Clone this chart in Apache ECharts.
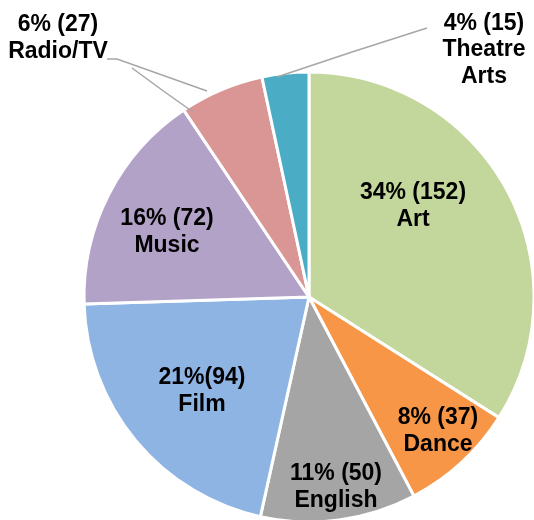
<!DOCTYPE html>
<html>
<head>
<meta charset="utf-8">
<script src="https://cdn.jsdelivr.net/npm/echarts@6/dist/echarts.min.js"></script>
<style>
  html, body { margin: 0; padding: 0; background: #fff; }
  #main { width: 534px; height: 520px; }
</style>
</head>
<body>
<div id="main"></div>
<script>
// slices, clockwise from 12 o'clock
const majors = ['Art', 'Dance', 'English', 'Film', 'Music', 'Radio/TV', 'Theatre Arts'];
const counts = [152, 37, 50, 94, 72, 27, 15];
const percents = [34, 8, 11, 21, 16, 6, 4];
const labelNames = ['Art', 'Dance', 'English', 'Film', 'Music', 'Radio/TV', 'Theatre\nArts'];

const colors = ['#C3D69B', '#F79646', '#A5A5A5', '#8EB4E3', '#B3A2C7', '#D99694', '#4BACC6'];
// where each label block sits (centre of the text), as in the picture
const labelSpots = [[413, 206], [438, 431], [336, 487], [202, 391], [167, 232], [58, 38], [484, 50]];
// leader lines of the outside labels (Radio/TV has two in the original)
const leaders = [
    { name: 'Radio/TV', points: [[107, 59], [117, 59], [207, 91]] },
    { name: 'Radio/TV', points: [[132, 68], [162, 90], [193, 112]] },
    { name: 'Theatre Arts', points: [[427, 28], [352, 52], [277, 77]] }
];

const font = {
    color: '#000',
    fontFamily: 'Liberation Sans, Arial, sans-serif',
    fontWeight: 'bold',
    fontSize: 23,
    lineHeight: 26.5,
    align: 'center'
};
const lineStyle = { color: '#A6A6A6', width: 1.5 };

const chart = echarts.init(document.getElementById('main'));

const base = {
    type: 'pie',
    center: [309, 297],
    radius: 225,
    startAngle: 90,
    clockwise: true,
    avoidLabelOverlap: false
};

const pieSeries = Object.assign({}, base, {
    itemStyle: { borderColor: '#fff', borderWidth: 3 },
    label: Object.assign({
        show: true,
        position: 'inside',
        formatter: p => {
            const i = p.dataIndex;
            const sep = p.name === 'Film' ? '' : ' ';
            return percents[i] + '%' + sep + '(' + counts[i] + ')\n' + labelNames[i];
        }
    }, font),
    labelLine: { show: false },
    labelLayout: p => {
        const s = labelSpots[p.dataIndex];
        return { x: s[0], y: s[1], align: 'center', verticalAlign: 'middle' };
    },
    data: majors.map((name, i) => ({ name: name, value: counts[i], itemStyle: { color: colors[i] } }))
});

// invisible copies of the pie, each one only carries a leader line drawn on top
const lineSeries = leaders.map(ld => Object.assign({}, base, {
    z: 5,
    silent: true,
    itemStyle: { color: 'rgba(0,0,0,0)', borderWidth: 0 },
    label: { color: 'rgba(0,0,0,0)', formatter: ' ', position: 'outside' },
    labelLine: { lineStyle: lineStyle },
    labelLayout: p => majors[p.dataIndex] === ld.name
        ? { x: ld.points[0][0], y: ld.points[0][1], labelLinePoints: ld.points }
        : {},
    data: majors.map((name, i) => ({
        name: name,
        value: counts[i],
        label: { show: name === ld.name },
        labelLine: { show: name === ld.name }
    }))
}));

chart.setOption({
    animation: false,
    series: [pieSeries].concat(lineSeries)
});
</script>
</body>
</html>
